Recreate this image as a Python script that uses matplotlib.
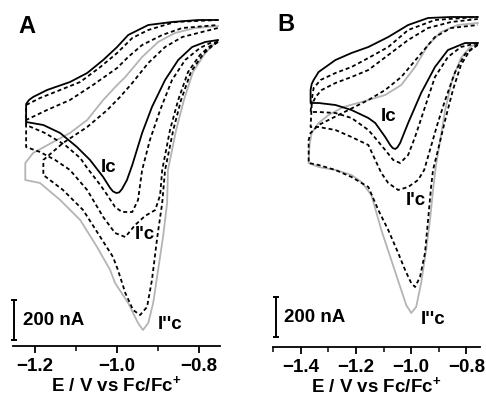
import matplotlib
matplotlib.use("Agg")
import matplotlib.pyplot as plt
from matplotlib.ticker import MultipleLocator

plt.rcParams['font.family'] = ['Liberation Sans', 'DejaVu Sans']
plt.rcParams['font.weight'] = 'bold'
plt.rcParams['mathtext.fontset'] = 'custom'
plt.rcParams['mathtext.rm'] = 'Liberation Sans:bold'
plt.rcParams['mathtext.bf'] = 'Liberation Sans:bold'

# ---- panel A : potential (V vs Fc/Fc+) and current (nA) ----
# each curve: cathodic scan (right -> left) then anodic scan (left -> right)
a_black_cat_e = [-0.754, -0.785, -0.817, -0.851, -0.883, -0.915, -0.939, -0.963, -0.976, -0.988, -0.995, -1.002,
                 -1.010, -1.017, -1.034, -1.066, -1.098, -1.139, -1.180, -1.222]
a_black_cat_i = [-100, -110, -135, -200, -300, -435, -565, -725, -800, -845, -862, -865,
                 -857, -840, -785, -700, -635, -565, -525, -510]
a_black_an_e = [-1.222, -1.222, -1.215, -1.205, -1.171, -1.115, -1.073, -1.034, -1.000, -0.973, -0.924, -0.866, -0.802, -0.754]
a_black_an_i = [-510, -420, -400, -385, -350, -310, -265, -200, -135, -75, -25, -10, 0, 0]

a_d1_cat_e = [-0.754, -0.773, -0.798, -0.834, -0.866, -0.895, -0.920, -0.939, -0.949, -0.963, -0.988, -1.005,
              -1.024, -1.041, -1.073, -1.090, -1.127, -1.176, -1.222]
a_d1_cat_i = [-110, -115, -140, -200, -300, -450, -600, -750, -900, -960, -960, -935,
              -875, -825, -740, -690, -625, -565, -525]
a_d1_an_e = [-1.222, -1.222, -1.188, -1.139, -1.090, -1.041, -1.000, -0.963, -0.924, -0.859, -0.754]
a_d1_an_i = [-525, -425, -390, -350, -310, -235, -165, -90, -50, -10, 0]

a_d2_cat_e = [-0.754, -0.773, -0.798, -0.827, -0.851, -0.871, -0.890, -0.895, -0.907, -0.932, -0.956, -0.980,
              -1.005, -1.034, -1.073, -1.115, -1.151, -1.188, -1.222]
a_d2_cat_i = [-110, -130, -175, -260, -400, -550, -750, -875, -950, -980, -1025, -1085,
              -1065, -985, -850, -750, -700, -660, -635]
a_d2_an_e = [-1.222, -1.222, -1.171, -1.115, -1.059, -1.000, -0.973, -0.939, -0.890, -0.841, -0.754]
a_d2_an_i = [-635, -500, -450, -400, -325, -240, -185, -125, -75, -40, -25]

a_d3_cat_e = [-0.754, -0.768, -0.790, -0.820, -0.844, -0.863, -0.883, -0.890, -0.902, -0.915, -0.927, -0.944,
              -0.961, -0.980, -0.998, -1.010, -1.041, -1.083, -1.132, -1.180]
a_d3_cat_i = [-110, -130, -170, -260, -400, -550, -750, -915, -1085, -1300, -1435, -1475,
              -1450, -1365, -1250, -1185, -1085, -950, -850, -775]
a_d3_an_e = [-1.180, -1.180, -1.132, -1.073, -1.024, -0.993, -0.963, -0.924, -0.883, -0.841, -0.793, -0.754]
a_d3_an_i = [-775, -700, -615, -535, -450, -385, -315, -215, -135, -85, -60, -40]

a_gray_cat_e = [-0.754, -0.766, -0.785, -0.815, -0.837, -0.856, -0.876, -0.878, -0.888, -0.900, -0.912, -0.924,
                -0.937, -0.949, -0.973, -1.005, -1.017, -1.049, -1.090, -1.139, -1.188, -1.224]
a_gray_cat_i = [-105, -125, -165, -260, -400, -550, -750, -915, -1085, -1250, -1415, -1515,
                -1550, -1515, -1415, -1315, -1250, -1135, -1000, -900, -815, -800]
a_gray_an_e = [-1.224, -1.224, -1.205, -1.156, -1.115, -1.073, -1.034, -1.000, -0.980, -0.939, -0.900, -0.859, -0.810, -0.754]
a_gray_an_i = [-800, -715, -665, -610, -565, -500, -400, -325, -285, -185, -110, -65, -40, -30]

# ---- panel B ----
b_black_cat_e = [-0.759, -0.805, -0.867, -0.914, -0.964, -1.011, -1.040, -1.050, -1.058, -1.067, -1.076, -1.094, -1.130,
                 -1.155, -1.216, -1.274, -1.335, -1.364]
b_black_cat_i = [-130, -130, -165, -250, -380, -530, -630, -652, -660, -655, -640, -600, -530,
                 -505, -465, -440, -430, -430]
b_black_an_e = [-1.364, -1.364, -1.360, -1.353, -1.335, -1.274, -1.216, -1.155, -1.083, -1.011, -0.939, -0.856, -0.759]
b_black_an_i = [-430, -365, -335, -315, -275, -215, -180, -150, -100, -40, -5, 0, 0]

b_d1_cat_e = [-0.759, -0.820, -0.867, -0.914, -0.950, -0.986, -1.011, -1.040, -1.065, -1.094, -1.130,
              -1.155, -1.216, -1.274, -1.335, -1.364]
b_d1_cat_i = [-130, -150, -200, -300, -450, -600, -690, -730, -715, -665, -605,
              -565, -505, -480, -475, -475]
b_d1_an_e = [-1.364, -1.360, -1.353, -1.328, -1.274, -1.216, -1.155, -1.083, -1.011, -0.914, -0.759]
b_d1_an_i = [-475, -415, -355, -315, -280, -250, -205, -150, -65, -15, 0]

b_d2_cat_e = [-0.759, -0.805, -0.841, -0.877, -0.906, -0.932, -0.953, -0.975, -1.011, -1.047, -1.083,
              -1.108, -1.130, -1.155, -1.216, -1.274, -1.335, -1.364]
b_d2_cat_i = [-140, -185, -275, -415, -540, -665, -765, -815, -850, -865, -830,
              -780, -715, -640, -600, -565, -550, -550]
b_d2_an_e = [-1.364, -1.360, -1.346, -1.324, -1.274, -1.216, -1.155, -1.083, -1.011, -0.939, -0.856, -0.759]
b_d2_an_i = [-550, -440, -400, -365, -330, -300, -265, -190, -115, -55, -25, -10]

b_d3_cat_e = [-0.759, -0.787, -0.820, -0.849, -0.877, -0.903, -0.921, -0.928, -0.939, -0.950, -0.968,
              -0.986, -1.000, -1.022, -1.047, -1.083, -1.119, -1.155, -1.216, -1.274, -1.335, -1.371]
b_d3_cat_i = [-135, -165, -240, -365, -515, -665, -765, -850, -1015, -1180, -1300,
              -1350, -1330, -1265, -1180, -1065, -965, -850, -800, -765, -740, -730]
b_d3_an_e = [-1.371, -1.371, -1.364, -1.335, -1.299, -1.227, -1.155, -1.094, -1.036, -0.975, -0.914, -0.856, -0.759]
b_d3_an_i = [-730, -615, -580, -540, -515, -465, -415, -365, -300, -200, -100, -55, -40]

b_gray_cat_e = [-0.759, -0.787, -0.820, -0.852, -0.877, -0.895, -0.910, -0.921, -0.932, -0.946, -0.964,
                -0.982, -1.000, -1.018, -1.036, -1.072, -1.108, -1.144, -1.180, -1.216, -1.274, -1.335, -1.371]
b_gray_cat_i = [-130, -150, -205, -315, -465, -615, -740, -865, -1015, -1165, -1330,
                -1450, -1480, -1440, -1365, -1215, -1065, -890, -825, -790, -765, -750, -730]
b_gray_an_e = [-1.371, -1.368, -1.360, -1.335, -1.299, -1.245, -1.180, -1.155, -1.094, -1.036, -0.986,
               -0.939, -0.892, -0.831, -0.759]
b_gray_an_i = [-730, -640, -580, -530, -490, -450, -425, -415, -390, -340, -250,
               -140, -75, -40, -30]

a_ticks = [-1.2, -1.0, -0.8]
b_ticks = [-1.4, -1.2, -1.0, -0.8]
scale_bar = 200  # nA

black_style = dict(color='black', lw=1.3, ls='-')
gray_style = dict(color='#b4b4b4', lw=1.3, ls='-')
dash_style = dict(color='black', lw=1.3, ls=(0, (2.2, 1.6)))


def draw(ax, curves):
    for cat_e, cat_i, an_e, an_i, style in curves:
        ax.plot(cat_e + an_e, cat_i + an_i, solid_joinstyle='round', **style)


def style_axis(ax, ticks, xlim, ylim):
    ax.set_xlim(*xlim)
    ax.set_ylim(*ylim)
    for s in ['left', 'right', 'top']:
        ax.spines[s].set_visible(False)
    ax.spines['bottom'].set_linewidth(1.3)
    ax.set_yticks([])
    ax.set_xticks(ticks)
    ax.set_xticklabels([f"\u2212{abs(t):.1f}" for t in ticks])
    ax.xaxis.set_minor_locator(MultipleLocator(0.1))
    ax.tick_params(axis='x', which='major', length=5, width=1.3, labelsize=13.5, pad=3.5)
    ax.tick_params(axis='x', which='minor', length=3.5, width=1.1)
    ax.set_xlabel(r"E / V vs Fc/Fc$^{+}$", fontsize=13.5, fontweight='bold', labelpad=0)
    ax.patch.set_alpha(0)


fig = plt.figure(figsize=(4.86, 3.97), dpi=100)
axA = fig.add_axes([13 / 486, 51 / 397, 207 / 486, 336 / 397])
axB = fig.add_axes([273 / 486, 50 / 397, 207 / 486, 337 / 397])

draw(axA, [
    (a_gray_cat_e, a_gray_cat_i, a_gray_an_e, a_gray_an_i, gray_style),
    (a_d1_cat_e, a_d1_cat_i, a_d1_an_e, a_d1_an_i, dash_style),
    (a_d2_cat_e, a_d2_cat_i, a_d2_an_e, a_d2_an_i, dash_style),
    (a_d3_cat_e, a_d3_cat_i, a_d3_an_e, a_d3_an_i, dash_style),
    (a_black_cat_e, a_black_cat_i, a_black_an_e, a_black_an_i, black_style),
])
draw(axB, [
    (b_gray_cat_e, b_gray_cat_i, b_gray_an_e, b_gray_an_i, gray_style),
    (b_d1_cat_e, b_d1_cat_i, b_d1_an_e, b_d1_an_i, dash_style),
    (b_d2_cat_e, b_d2_cat_i, b_d2_an_e, b_d2_an_i, dash_style),
    (b_d3_cat_e, b_d3_cat_i, b_d3_an_e, b_d3_an_i, dash_style),
    (b_black_cat_e, b_black_cat_i, b_black_an_e, b_black_an_i, black_style),
])

style_axis(axA, a_ticks, (-1.254, -0.749), (-1630, 50))
style_axis(axB, b_ticks, (-1.5, -0.751), (-1650, 35))

# scale bars
for ax, x, tx in [(axA, -1.252, -1.230), (axB, -1.490, -1.461)]:
    ax.plot([x, x], [-1400, -1400 - scale_bar], color='black', lw=1.4,
            marker='_', markersize=4, mew=1.4, clip_on=False)
    ax.text(tx, -1505, f"{scale_bar} nA", fontsize=13.5, fontweight='bold', ha='left', va='center')

# panel letters and peak labels
axA.text(-1.220, -35, "A", fontsize=17, fontweight='bold', ha='center', va='center')
axB.text(-1.454, -40, "B", fontsize=17, fontweight='bold', ha='center', va='center')
for ax, x, y, s in [(axA, -1.020, -740, "Ic"), (axA, -0.932, -1075, "I'c"), (axA, -0.871, -1525, "I''c"),
                    (axB, -1.083, -500, "Ic"), (axB, -0.982, -920, "I'c"), (axB, -0.921, -1510, "I''c")]:
    ax.text(x, y, s, fontsize=13.5, fontweight='bold', ha='center', va='center')

fig.savefig("out.png", dpi=100)
